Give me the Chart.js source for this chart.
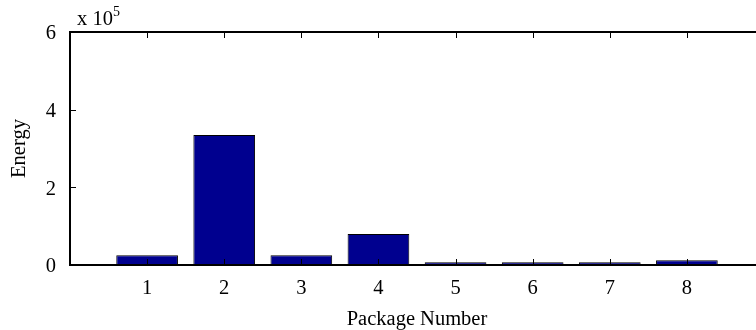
<!DOCTYPE html>
<html><head><meta charset="utf-8">
<script src="https://cdn.jsdelivr.net/npm/chart.js@4"></script>
<style>html,body{margin:0;padding:0;overflow:hidden;background:#fff;width:756px;height:330px}</style>
</head><body>
<canvas id="c" width="790" height="330"></canvas>
<script>
const packages = [1, 2, 3, 4, 5, 6, 7, 8];
const energy = [25000, 335000, 25000, 80000, 7000, 7000, 7000, 12000];
const yTicks = [0, 200000, 400000, 600000];

const FONT = "'Liberation Serif', 'Times New Roman', serif";
const FS = 20.5;

const frame = {
  id: 'frame',
  afterDraw(chart) {
    const {ctx, chartArea: a, scales: {x, y}} = chart;
    ctx.save();
    ctx.strokeStyle = '#000';
    ctx.lineWidth = 1;
    packages.forEach(p => {
      const px = Math.round(x.getPixelForValue(p)) + 0.5;
      ctx.beginPath(); ctx.moveTo(px, a.bottom); ctx.lineTo(px, a.bottom - 6); ctx.stroke();
      ctx.beginPath(); ctx.moveTo(px, a.top); ctx.lineTo(px, a.top + 6); ctx.stroke();
    });
    yTicks.forEach(v => {
      const py = Math.round(y.getPixelForValue(v)) + 0.5;
      ctx.beginPath(); ctx.moveTo(a.left, py); ctx.lineTo(a.left + 6, py); ctx.stroke();
    });
    ctx.lineWidth = 2;
    ctx.beginPath();
    ctx.moveTo(a.right, a.top); ctx.lineTo(a.left, a.top);
    ctx.lineTo(a.left, a.bottom); ctx.lineTo(a.right, a.bottom);
    ctx.stroke();
    ctx.fillStyle = '#000';
    ctx.font = FS + 'px ' + FONT;
    ctx.textBaseline = 'alphabetic';
    ctx.textAlign = 'left';
    ctx.fillText('x 10', a.left + 7, a.top - 7);
    const w = ctx.measureText('x 10').width;
    ctx.font = '14px ' + FONT;
    ctx.fillText('5', a.left + 7 + w, a.top - 16);
    ctx.restore();
  }
};

new Chart(document.getElementById('c'), {
  type: 'bar',
  data: {
    datasets: [{
      data: packages.map((p, i) => ({x: p, y: energy[i]})),
      backgroundColor: '#00008f',
      borderColor: '#000',
      borderWidth: 1,
      barPercentage: 0.8,
      categoryPercentage: 1.0
    }]
  },
  options: {
    responsive: false,
    animation: false,
    layout: {padding: {top: 32, right: 26, left: 3, bottom: 0}},
    plugins: {legend: {display: false}, tooltip: {enabled: false}},
    scales: {
      x: {
        type: 'linear', min: 0, max: 9, offset: false,
        grid: {display: false, offset: false}, border: {display: false},
        afterFit(s) { s.height = 65; },
        afterBuildTicks(s) { s.ticks = packages.map(v => ({value: v})); },
        ticks: {color: '#000', font: {family: FONT, size: FS}, padding: 3, maxRotation: 0, autoSkip: false},
        title: {display: true, text: 'Package Number', color: '#000', font: {family: FONT, size: FS}, padding: {top: 0, bottom: -2}}
      },
      y: {
        min: 0, max: 600000,
        grid: {display: false}, border: {display: false},
        afterFit(s) { s.width = 67; },
        afterBuildTicks(s) { s.ticks = yTicks.map(v => ({value: v})); },
        ticks: {color: '#000', font: {family: FONT, size: FS}, padding: 6, labelOffset: 2, callback: v => String(v / 100000)},
        title: {display: true, text: 'Energy', color: '#000', font: {family: FONT, size: FS}, padding: {bottom: 0}}
      }
    }
  },
  plugins: [frame]
});
</script>
</body></html>
